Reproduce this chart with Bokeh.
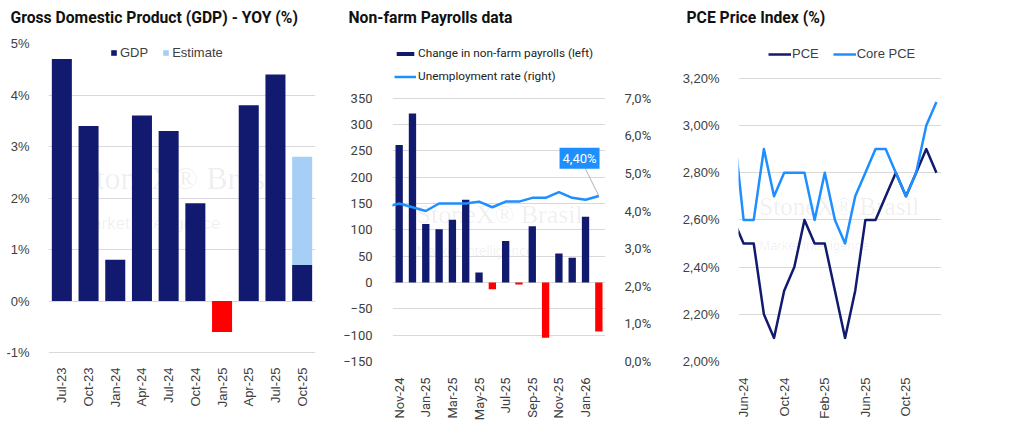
import math
from bokeh.plotting import figure
from bokeh.layouts import row
from bokeh.models import (FactorRange, Range1d, LinearAxis, Legend, LegendItem,
                          Label, Title, CustomJSTickFormatter)
from bokeh.embed import file_html
from bokeh.resources import INLINE

# ---------------- data ----------------
gdp_quarters = ["Jul-23", "Oct-23", "Jan-24", "Apr-24", "Jul-24",
                "Oct-24", "Jan-25", "Apr-25", "Jul-25", "Oct-25"]
gdp_values = [4.7, 3.4, 0.8, 3.6, 3.3, 1.9, -0.6, 3.8, 4.4, 0.7]
gdp_estimate = [None, None, None, None, None, None, None, None, None, 2.8]
gdp_ticks = [-1, 0, 1, 2, 3, 4, 5]

payroll_months = ["Nov-24", "Dec-24", "Jan-25", "Feb-25", "Mar-25", "Apr-25",
                  "May-25", "Jun-25", "Jul-25", "Aug-25", "Sep-25", "Oct-25",
                  "Nov-25", "Dec-25", "Jan-26", "Feb-26"]
payroll_change = [261, 321, 111, 101, 119, 157, 19, -13, 79, -4, 107, -105,
                  55, 47, 125, -93]
unemp_months = ["Oct-24"] + payroll_months
unemp_rate = [4.1, 4.2, 4.1, 4.0, 4.2, 4.2, 4.2, 4.25, 4.1, 4.25, 4.25,
              4.35, 4.35, 4.5, 4.35, 4.3, 4.4]
payroll_ticks = [-150, -100, -50, 0, 50, 100, 150, 200, 250, 300, 350]
rate_ticks = [0, 1, 2, 3, 4, 5, 6, 7]
payroll_label_months = ["Nov-24", "Jan-25", "Mar-25", "May-25", "Jul-25",
                        "Sep-25", "Nov-25", "Jan-26"]

pce_months = ["May-24", "Jun-24", "Jul-24", "Aug-24", "Sep-24", "Oct-24",
              "Nov-24", "Dec-24", "Jan-25", "Feb-25", "Mar-25", "Apr-25",
              "May-25", "Jun-25", "Jul-25", "Aug-25", "Sep-25", "Oct-25",
              "Nov-25", "Dec-25", "Jan-26"]
pce_values = [2.6, 2.5, 2.5, 2.2, 2.1, 2.3, 2.4, 2.6, 2.5, 2.5, 2.3, 2.1,
              2.3, 2.6, 2.6, 2.7, 2.8, 2.7, 2.8, 2.9, 2.8]
core_pce_values = [3.0, 2.6, 2.6, 2.9, 2.7, 2.8, 2.8, 2.8, 2.6, 2.8, 2.6, 2.5,
                   2.7, 2.8, 2.9, 2.9, 2.8, 2.7, 2.8, 3.0, 3.1]
pce_ticks = [2.0, 2.2, 2.4, 2.6, 2.8, 3.0, 3.2]
pce_label_months = ["Jun-24", "Oct-24", "Feb-25", "Jun-25", "Oct-25"]

# ---------------- style ----------------
NAVY = "#111a6e"
RED = "#ff0000"
LIGHT = "#a7cff5"
BLUE = "#1e8fff"
GRID = "#d9d9d9"
TXT = "#404040"
AX_FONT = "Liberation Sans"
TITLE_FONT = "Roboto"
H = 423
FT, FB = 43, 363          # common frame top / bottom (pixels)
FH = FB - FT
ROW_H = 14                # legend row height


def extend_range(lo, hi, px_lo, px_hi):
    """Range whose lo/hi values land on the given pixel rows of the common frame."""
    per_px = (hi - lo) / (px_lo - px_hi)
    return Range1d(lo - (FB - px_lo) * per_px, hi + (px_hi - FT) * per_px)


def style(p, font=AX_FONT):
    p.xgrid.grid_line_color = None
    p.ygrid.grid_line_color = GRID
    p.ygrid.grid_line_width = 1
    p.outline_line_color = None
    p.background_fill_color = "white"
    p.border_fill_color = "white"
    for ax in p.axis:
        ax.axis_line_color = None
        ax.major_tick_line_color = None
        ax.minor_tick_line_color = None
        ax.major_label_text_color = TXT
        ax.major_label_text_font = font
        ax.major_label_text_font_size = "13px"


def set_title(p, text, title_x, frame_left):
    # real title, lifted above a small blank spacer that sits next to the frame
    p.title.text = text
    p.title.align = "left"
    p.title.offset = title_x - frame_left
    p.title.standoff = 0
    p.title.text_font = TITLE_FONT
    p.title.text_font_style = "bold"
    p.title.text_font_size = "15.7px"
    p.title.text_color = "#111111"
    p.add_layout(Title(text=" ", text_font_size="10px", standoff=4), "above")


def add_watermark(p, x, y1, y2, size1, size2, **kw):
    p.add_layout(Label(x=x, y=y1, text="StoneX\u00ae Brasil",
                       text_font="Liberation Serif", text_font_size=f"{size1}px",
                       text_color="#000000", text_alpha=0.07, level="underlay", **kw))
    p.add_layout(Label(x=x, y=y2, text="Market Intelligence",
                       text_font="Liberation Sans", text_font_size=f"{size2}px",
                       text_color="#000000", text_alpha=0.07, level="underlay", **kw))


def make_fig(width, left, right, x_range, y_range):
    return figure(width=width, height=H, x_range=x_range, y_range=y_range,
                  output_backend="svg", toolbar_location=None,
                  min_border_left=left, min_border_right=width - right,
                  min_border_top=FT, min_border_bottom=H - FB)


def legend_loc(x_px, top_px, n_rows, spacing):
    height = n_rows * ROW_H + (n_rows - 1) * spacing
    return (x_px, FB - top_px - height)


# ---------------- panel 1: GDP ----------------
F1L, F1R = 48, 315
p1 = make_fig(340, F1L, F1R, FactorRange(factors=gdp_quarters),
              extend_range(gdp_ticks[0], gdp_ticks[-1], 354, 43))
style(p1)
bar_colors = [NAVY if v >= 0 else RED for v in gdp_values]
r_gdp = p1.vbar(x=gdp_quarters, top=gdp_values, bottom=0, width=0.75,
                fill_color=bar_colors, line_color=None)
est_x = [q for q, e in zip(gdp_quarters, gdp_estimate) if e is not None]
est_bottom = [g for g, e in zip(gdp_values, gdp_estimate) if e is not None]
est_top = [e for e in gdp_estimate if e is not None]
r_est = p1.vbar(x=est_x, top=est_top, bottom=est_bottom, width=0.75,
                fill_color=LIGHT, line_color=None)
p1.yaxis.ticker = gdp_ticks
p1.yaxis.formatter = CustomJSTickFormatter(code="return tick.toFixed(0) + '%';")
p1.yaxis.major_label_standoff = 13
p1.xaxis.major_label_orientation = math.pi / 2
p1.xaxis.major_label_standoff = 0
leg1 = Legend(items=[LegendItem(label="GDP", renderers=[r_gdp], index=0),
                     LegendItem(label="Estimate", renderers=[r_est])],
              orientation="horizontal", location=legend_loc(62, 48, 1, 0),
              glyph_width=7, glyph_height=7, label_standoff=3, spacing=14,
              padding=0, margin=0, border_line_color=None,
              background_fill_alpha=0, label_text_font=AX_FONT,
              label_text_font_size="13px", label_text_color=TXT, label_height=ROW_H)
p1.add_layout(leg1)
set_title(p1, "Gross Domestic Product (GDP) - YOY (%)", 10, F1L)
add_watermark(p1, 1.1, 2.03, 1.33, 32, 17)

# ---------------- panel 2: payrolls ----------------
X0 = 340
F2L, F2R = 392 - X0, 605 - X0
p2 = make_fig(330, F2L, F2R, Range1d(-0.5, len(payroll_months) - 0.5),
              extend_range(payroll_ticks[0], payroll_ticks[-1], 363, 98))
p2.extra_y_ranges = {"rate": extend_range(rate_ticks[0], rate_ticks[-1], 363, 98)}
p2.add_layout(LinearAxis(y_range_name="rate"), "right")
style(p2, "Roboto")
pay_x = list(range(len(payroll_months)))
pay_colors = [NAVY if v >= 0 else RED for v in payroll_change]
r_pay = p2.vbar(x=pay_x, top=payroll_change, bottom=0, width=0.55,
                fill_color=pay_colors, line_color=None)
offset = unemp_months.index(payroll_months[0])
unemp_x = [i - offset for i in range(len(unemp_months))]
r_rate = p2.line(x=unemp_x, y=unemp_rate, y_range_name="rate",
                 line_color=BLUE, line_width=2.5, line_join="round")
p2.yaxis[0].ticker = payroll_ticks
p2.yaxis[0].major_label_standoff = 14
p2.yaxis[1].ticker = rate_ticks
p2.yaxis[1].formatter = CustomJSTickFormatter(
    code="return tick.toFixed(1).replace('.', ',') + '%';")
p2.yaxis[1].major_label_standoff = 13
p2.xaxis.ticker = [payroll_months.index(m) for m in payroll_label_months]
p2.xaxis.major_label_overrides = {payroll_months.index(m): m for m in payroll_label_months}
p2.xaxis.major_label_orientation = math.pi / 2
p2.xaxis.major_label_standoff = 10
leg2 = Legend(items=[LegendItem(label="Change in non-farm payrolls (left)", renderers=[r_pay], index=0),
                     LegendItem(label="Unemployment rate (right)", renderers=[r_rate])],
              orientation="vertical", location=legend_loc(2, 48, 2, 9),
              glyph_width=22, glyph_height=5, label_standoff=2, spacing=9,
              padding=0, margin=0, border_line_color=None,
              background_fill_alpha=0, label_text_font="Roboto",
              label_text_font_size="11.8px", label_text_color="#222222", label_height=ROW_H)
p2.add_layout(leg2)
lab_txt = f"{unemp_rate[-1]:.2f}%".replace(".", ",")
p2.segment(x0=[unemp_x[-1] - 1.05], y0=[unemp_rate[-1] + 0.75],
           x1=[unemp_x[-1]], y1=[unemp_rate[-1]], y_range_name="rate",
           line_color="#a0a0a0", line_width=0.8)
p2.add_layout(Label(x=unemp_x[-1] - 1.45, y=unemp_rate[-1] + 1.0, y_range_name="rate",
                    text=lab_txt, text_color="white", text_font="Roboto",
                    text_font_size="13px", text_align="center", text_baseline="middle",
                    background_fill_color=BLUE, padding=3))
set_title(p2, "Non-farm Payrolls data", 348 - X0, F2L)
add_watermark(p2, 1.3, 101, 44, 26, 14)

# ---------------- panel 3: PCE ----------------
X0 = 670
F3L, F3R = 738 - X0, 941 - X0
p3 = make_fig(347, F3L, F3R,
              Range1d(pce_months.index(pce_label_months[0]) - 0.5, len(pce_months) - 0.5),
              extend_range(pce_ticks[0], pce_ticks[-1], 363, 78))
style(p3)
pce_x = list(range(len(pce_months)))
r_pce = p3.line(x=pce_x, y=pce_values, line_color=NAVY, line_width=2.5, line_join="round")
r_core = p3.line(x=pce_x, y=core_pce_values, line_color=BLUE, line_width=2.5, line_join="round")
p3.yaxis.ticker = pce_ticks
p3.yaxis.formatter = CustomJSTickFormatter(
    code="return tick.toFixed(2).replace('.', ',') + '%';")
p3.yaxis.major_label_standoff = 13
p3.xaxis.ticker = [pce_months.index(m) for m in pce_label_months]
p3.xaxis.major_label_overrides = {pce_months.index(m): m for m in pce_label_months}
p3.xaxis.major_label_orientation = math.pi / 2
p3.xaxis.major_label_standoff = 10
leg3 = Legend(items=[LegendItem(label="PCE", renderers=[r_pce]),
                     LegendItem(label="Core PCE", renderers=[r_core])],
              orientation="horizontal", location=legend_loc(30, 49, 1, 0),
              glyph_width=23, glyph_height=14, label_standoff=1, spacing=14,
              padding=0, margin=0, border_line_color=None,
              background_fill_alpha=0, label_text_font=AX_FONT,
              label_text_font_size="13px", label_text_color=TXT, label_height=ROW_H)
p3.add_layout(leg3)
set_title(p3, "PCE Price Index (%)", 686 - X0, F3L)
add_watermark(p3, 2.55, 2.60, 2.46, 25, 13)

layout = row(p1, p2, p3)
open("out.html", "w").write(file_html(layout, INLINE))
